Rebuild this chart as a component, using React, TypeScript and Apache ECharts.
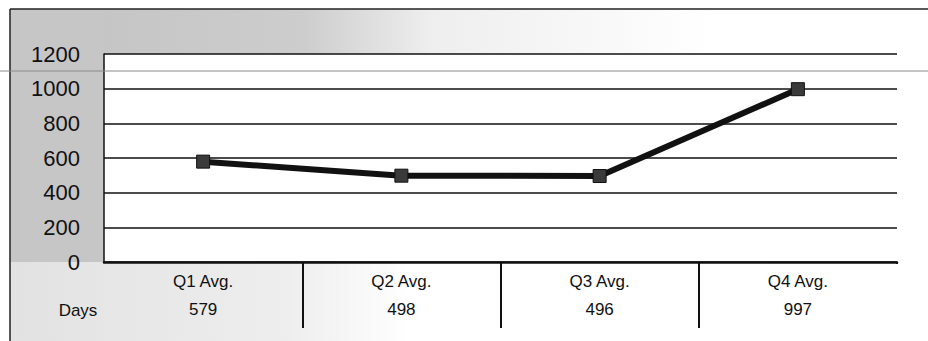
import React, { useEffect, useRef } from "react";
import * as echarts from "echarts";

const categories = ["Q1 Avg.", "Q2 Avg.", "Q3 Avg.", "Q4 Avg."];
const days = [579, 498, 496, 997];
const rowLabel = "Days";
const yMin = 0;
const yMax = 1200;
const yInterval = 200;

export default function App() {
  const ref = useRef<HTMLDivElement>(null);
  useEffect(() => {
    if (!ref.current) return;
    const chart = echarts.init(ref.current, null, { renderer: "svg" });
    const font = "'Liberation Sans', Arial, sans-serif";
    chart.setOption({
      animation: false,
      backgroundColor: "#ffffff",
      graphic: [
        {
          type: "rect",
          z: -10,
          shape: { x: 10, y: 9, width: 700, height: 45 },
          style: {
            fill: new echarts.graphic.LinearGradient(0, 0, 1, 0, [
              { offset: 0, color: "#c2c2c2" },
              { offset: 0.42, color: "#cdcdcd" },
              { offset: 0.6, color: "#eeeeee" },
              { offset: 1, color: "#ffffff" },
            ]),
          },
        },
        {
          type: "rect",
          z: -10,
          shape: { x: 10, y: 9, width: 94, height: 253 },
          style: { fill: "#c6c6c6" },
        },
        {
          type: "rect",
          z: -10,
          shape: { x: 10, y: 262, width: 400, height: 79 },
          style: {
            fill: new echarts.graphic.LinearGradient(0, 0, 1, 0, [
              { offset: 0, color: "#e2e2e2" },
              { offset: 0.7, color: "#eeeeee" },
              { offset: 1, color: "#ffffff" },
            ]),
          },
        },
        {
          type: "line",
          z: 5,
          shape: { x1: 10, y1: 9, x2: 928, y2: 9 },
          style: { stroke: "#222", lineWidth: 1.5 },
        },
        {
          type: "line",
          z: 5,
          shape: { x1: 10, y1: 9, x2: 10, y2: 341 },
          style: { stroke: "#222", lineWidth: 1.5 },
        },
        {
          type: "line",
          z: 5,
          shape: { x1: 0, y1: 71, x2: 928, y2: 71 },
          style: { stroke: "#8a8a8a", lineWidth: 1 },
        },
        // hide the closing tick at the right end of the table
        {
          type: "rect",
          z: 100,
          shape: { x: 894, y: 264, width: 6, height: 70 },
          style: { fill: "#ffffff" },
        },
        {
          type: "text",
          z: 5,
          style: {
            x: 78,
            y: 310,
            text: rowLabel,
            align: "center",
            verticalAlign: "middle",
            font: `17px ${font}`,
            fill: "#111",
          },
        },
      ],
      grid: { left: 104, right: 31, top: 54, bottom: 79, containLabel: false },
      xAxis: {
        type: "category",
        data: categories,
        boundaryGap: true,
        axisLine: { show: true, lineStyle: { color: "#111", width: 2.5 } },
        axisTick: {
          show: true,
          length: 66,
          interval: (i: number) => i > 0 && i < categories.length,
          lineStyle: { color: "#111", width: 2 },
        },
        axisLabel: {
          margin: 5,
          formatter: (v: string, i: number) => `{a|${v}}\n{b|${days[i]}}`,
          rich: {
            a: { fontSize: 17, lineHeight: 28, fontFamily: font, color: "#111" },
            b: { fontSize: 17, lineHeight: 28, fontFamily: font, color: "#111" },
          },
        },
        splitLine: { show: false },
      },
      yAxis: {
        type: "value",
        min: yMin,
        max: yMax,
        interval: yInterval,
        axisLine: { show: true, lineStyle: { color: "#111", width: 1.5 } },
        axisTick: { show: false },
        axisLabel: {
          margin: 24,
          fontSize: 22,
          fontFamily: font,
          color: "#111",
          formatter: (v: number) => String(v),
        },
        splitLine: { show: true, lineStyle: { color: "#111", width: 1.5 } },
      },
      series: [
        {
          type: "line",
          data: days,
          symbol: "rect",
          symbolSize: 13,
          lineStyle: { color: "#111", width: 6 },
          itemStyle: { color: "#3a3a3a", borderColor: "#111", borderWidth: 1 },
          z: 10,
        },
      ],
    });
    return () => chart.dispose();
  }, []);
  return <div ref={ref} style={{ width: 928, height: 341, position: "absolute", left: 0, top: 0 }} />;
}
